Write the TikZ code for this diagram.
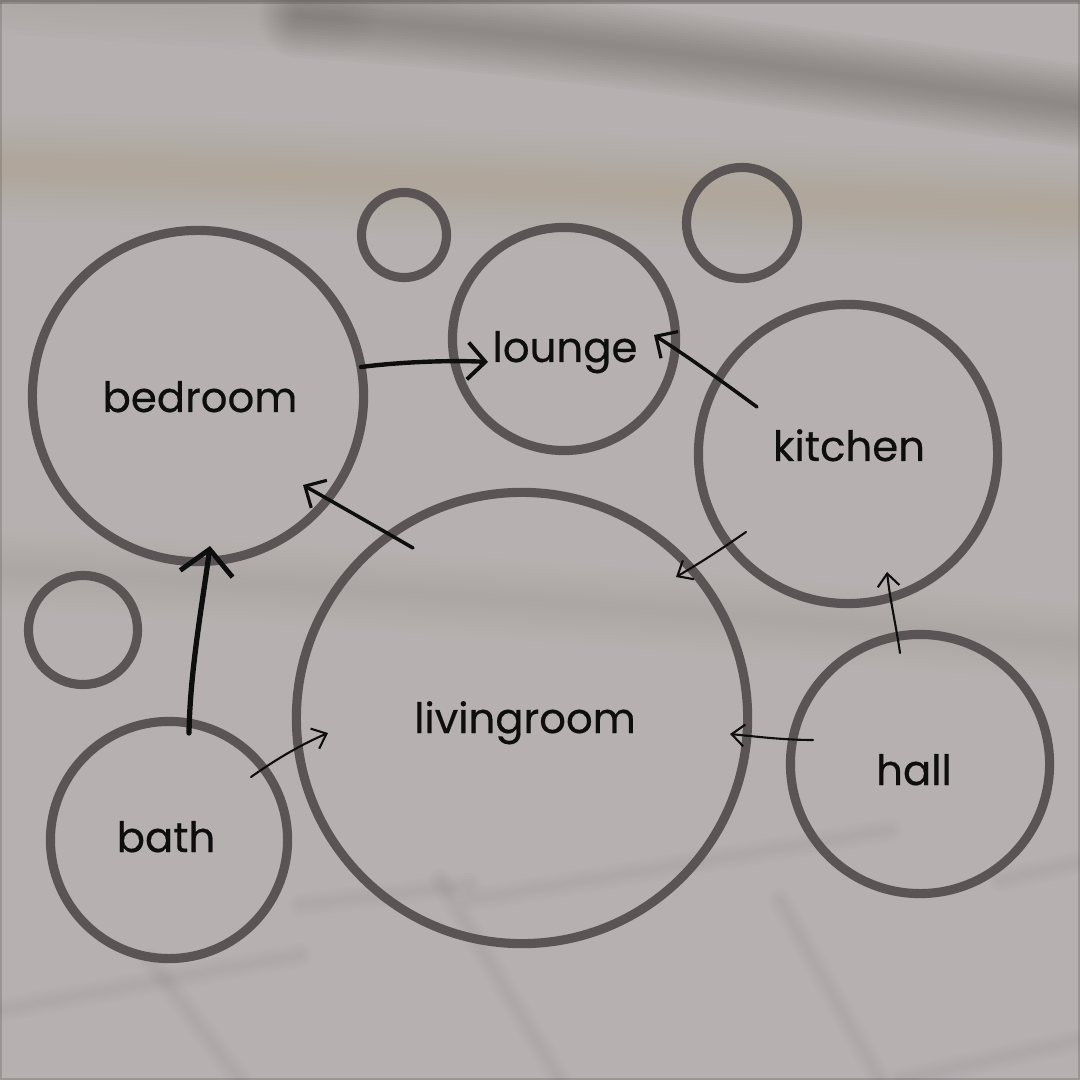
\documentclass[tikz,border=0pt]{standalone}
\usepackage{fontspec}
\setmainfont{Poppins}[FakeBold=0.45]
\usetikzlibrary{arrows.meta}
\definecolor{bgbase}{HTML}{B6B1B0}
\definecolor{bgdark}{HTML}{5E5856}
\definecolor{bgtan}{HTML}{B09E86}
\definecolor{bgmid}{HTML}{958D8A}
\definecolor{ring}{HTML}{5A5554}
\definecolor{ink}{HTML}{0E0E0E}
\tikzset{
  room/.style={circle, draw=ring, line width=2.6pt, inner sep=0pt},
  lbl/.style={font=\fontsize{11.9}{14}\selectfont, text=ink, anchor=base, inner sep=0pt},
  conn/.style={draw=ink, line cap=round, line join=round},
  bigconn/.style={conn, line width=1.25pt, -{Straight Barb[length=5pt,width=10.5pt,line width=1.1pt]}},
  hugeconn/.style={conn, line width=1.5pt, -{Straight Barb[length=7pt,width=15pt,line width=1.4pt]}},
  midconn/.style={conn, line width=1.0pt, -{Straight Barb[length=4.6pt,width=9pt,line width=0.9pt]}},
  thinconn/.style={conn, line width=0.6pt, -{Straight Barb[length=3.6pt,width=6.2pt,line width=0.6pt]}},
  soft/.style={line cap=round, draw opacity=#1},
  soft/.default=0.035
}
\begin{document}
\begin{tikzpicture}[x=0.01cm,y=-0.01cm]
% ---------- background ----------
\useasboundingbox (0,0) rectangle (1080,1080);
\fill[bgbase] (0,0) rectangle (1080,1080);
\begin{scope}
\clip (0,0) rectangle (1080,1080);
% tan band
\foreach \w in {10,20,...,110} {
  \draw[bgtan, line width=\w*0.2845pt, soft=0.045] (-60,165) .. controls (400,176) and (700,195) .. (1140,212);
}
% dark diagonal band at top
\foreach \w in {6,12,...,84} {
  \draw[bgdark, line width=\w*0.2845pt, soft=0.035] (300,16) .. controls (550,32) and (800,70) .. (1140,114);
}
\foreach \w in {10,20,...,80} {
  \draw[bgdark, line width=\w*0.2845pt, soft=0.01] (20,-5) -- (340,16);
}
% middle darker band
\foreach \w in {8,16,...,80} {
  \draw[bgmid, line width=\w*0.2845pt, soft=0.028] (-60,568) .. controls (300,582) and (700,612) .. (1140,648);
}
% faint plan lines at bottom
\foreach \a/\b in {{(150,960)}/{(240,1080)}, {(440,880)}/{(560,1080)}, {(470,900)}/{(890,830)}, {(780,900)}/{(880,1080)}, {(0,1010)}/{(300,955)}, {(1000,880)}/{(1080,862)}, {(300,905)}/{(470,885)}, {(900,1080)}/{(1080,1040)}} {
  \foreach \w in {6,12,18,24} {
    \draw[bgdark, line width=\w*0.2845pt, soft=0.015] \a -- \b;
  }
}
% top dark edge
\fill[bgdark, opacity=0.4] (0,0) rectangle (1080,4);
\end{scope}
\draw[bgdark, opacity=0.3, line width=0.6pt] (1,1) rectangle (1079,1079);

% ---------- rooms ----------
\node[room, minimum size=3.31cm] (bedroomc) at (198,396) {};
\node[room, minimum size=0.85cm] (small1) at (404,235) {};
\node[room, minimum size=2.23cm] (loungec) at (564,339) {};
\node[room, minimum size=1.11cm] (small2) at (742,223) {};
\node[room, minimum size=2.99cm] (kitchenc) at (848,454) {};
\node[room, minimum size=1.09cm] (small3) at (83,630) {};
\node[room, minimum size=4.51cm] (livingc) at (522,718) {};
\node[room, minimum size=2.59cm] (hallc) at (920,764) {};
\node[room, minimum size=2.37cm] (bathc) at (169,840) {};

% ---------- labels ----------
\node[lbl] (bedroom) at (200,412) {bedroom};
\node[lbl] (lounge) at (565,362) {lounge};
\node[lbl] (kitchen) at (849,461) {kitchen};
\node[lbl] (living) at (525,733) {livingroom};
\node[lbl] (hall) at (914,785) {hall};
\node[lbl] (bath) at (166,852) {bath};

% ---------- arrow endpoints ----------
\coordinate (a1s) at (361,367);  \coordinate (a1e) at (488,362);
\coordinate (a2s) at (757,407);  \coordinate (a2e) at (654,335);
\coordinate (a3s) at (413,548);  \coordinate (a3e) at (303,485);
\coordinate (a4s) at (189,733);  \coordinate (a4e) at (210,546);
\coordinate (a5s) at (251,777);  \coordinate (a5e) at (328,733);
\coordinate (a6s) at (746,532);  \coordinate (a6e) at (676,577);
\coordinate (a7s) at (900,653);  \coordinate (a7e) at (887,572);
\coordinate (a8s) at (813,740);  \coordinate (a8e) at (730,734);

% ---------- connectors ----------
\draw[bigconn] (a1s) .. controls (400,362) and (450,360) .. (a1e);
\draw[midconn] (a2s) .. controls (720,380) and (690,358) .. (a2e);
\draw[midconn] (a3s) .. controls (375,526) and (340,506) .. (a3e);
\draw[hugeconn] (a4s) .. controls (190,670) and (203,600) .. (a4e);
\draw[thinconn] (a5s) .. controls (275,760) and (300,745) .. (a5e);
\draw[thinconn] (a6s) .. controls (720,550) and (700,563) .. (a6e);
\draw[thinconn] (a7s) .. controls (896,625) and (890,600) .. (a7e);
\draw[thinconn] (a8s) .. controls (785,740) and (760,737) .. (a8e);
\end{tikzpicture}
\end{document}
